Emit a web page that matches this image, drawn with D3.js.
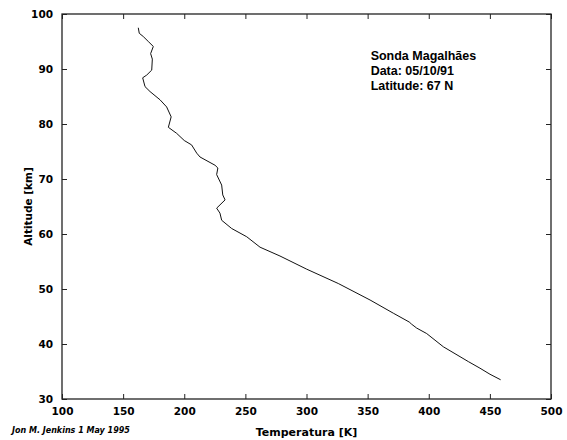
<!DOCTYPE html>
<html>
<head>
<meta charset="utf-8">
<script src="https://cdn.jsdelivr.net/npm/d3@7"></script>
<style>
body { margin: 0; background: #fff; }
</style>
</head>
<body>
<div id="box"></div>
<script>
// temperature profile (K) vs altitude (km), top of the sounding first
var temperature = [162.4, 163.2, 166.5, 170.6, 174.7, 172.5, 173.9, 173.4, 169.3, 166.0, 167.9, 172.0,
    180.2, 185.6, 189.3, 187.0, 193.8, 200.0, 206.0, 210.2, 212.9, 225.2, 227.5, 226.5, 230.6, 231.5,
    233.4, 226.5, 229.2, 230.6, 238.8, 251.1, 262.0, 278.3, 300.2, 326.0, 352.0, 371.0, 384.0,
    386.0, 390.1, 398.3, 411.9, 432.4, 441.9, 450.1, 458.8];
var altitude = [97.5, 96.5, 95.9, 95.0, 94.1, 92.8, 91.8, 89.8, 88.9, 88.4, 86.8, 85.9,
    84.4, 83.1, 81.3, 79.4, 78.3, 77.0, 76.2, 74.7, 74.0, 72.5, 72.0, 70.8, 68.9, 67.1,
    66.2, 64.7, 63.8, 62.5, 61.0, 59.5, 57.6, 56.0, 53.6, 51.0, 48.0, 45.6, 44.0,
    43.6, 42.9, 41.9, 39.5, 36.8, 35.6, 34.5, 33.5];
var xTicks = [100, 150, 200, 250, 300, 350, 400, 450, 500];
var yTicks = [30, 40, 50, 60, 70, 80, 90, 100];
var infoLines = ["Sonda Magalhães", "Data: 05/10/91", "Latitude: 67 N"];

var width = 567, height = 440;
var padLeft = 62, padRight = 551, padTop = 14, padBottom = 399;

var svg = d3.select("#box").append("svg")
    .attr("width", width)
    .attr("height", height);

var x = d3.scaleLinear().domain([100, 500]).range([padLeft, padRight]);
var y = d3.scaleLinear().domain([30, 100]).range([padBottom, padTop]);

// ticks pointing inward on all four sides
svg.append("g")
    .attr("transform", "translate(0," + padBottom + ")")
    .call(d3.axisBottom(x).tickValues(xTicks).tickSize(-5).tickPadding(9))
    .call(function(g){ g.select(".domain").remove(); });
svg.append("g")
    .attr("transform", "translate(0," + padTop + ")")
    .call(d3.axisTop(x).tickValues(xTicks).tickSize(-5).tickFormat(""))
    .call(function(g){ g.select(".domain").remove(); });
svg.append("g")
    .attr("transform", "translate(" + padLeft + ",0)")
    .call(d3.axisLeft(y).tickValues(yTicks).tickSize(-5).tickPadding(9))
    .call(function(g){ g.select(".domain").remove(); });
svg.append("g")
    .attr("transform", "translate(" + padRight + ",0)")
    .call(d3.axisRight(y).tickValues(yTicks).tickSize(-5).tickFormat(""))
    .call(function(g){ g.select(".domain").remove(); });

svg.selectAll(".tick line").attr("stroke", "#222");
svg.selectAll(".tick text")
    .attr("font-family", "DejaVu Sans, sans-serif")
    .attr("font-weight", "bold")
    .attr("font-size", 10.5)
    .attr("fill", "#000");

svg.append("rect")
    .attr("x", padLeft)
    .attr("y", padTop)
    .attr("width", padRight - padLeft)
    .attr("height", padBottom - padTop)
    .attr("fill", "none")
    .attr("stroke", "#222")
    .attr("stroke-width", 1.3);

var line = d3.line()
    .x(function(d, i){ return x(temperature[i]); })
    .y(function(d, i){ return y(altitude[i]); });

svg.append("path")
    .datum(temperature)
    .attr("d", line)
    .attr("fill", "none")
    .attr("stroke", "#111")
    .attr("stroke-width", 1);

svg.selectAll(".info")
    .data(infoLines)
    .enter()
    .append("text")
    .attr("class", "info")
    .attr("x", x(350) + 3)
    .attr("y", function(d, i){ return 60 + i * 15; })
    .attr("font-family", "Liberation Sans, Arial, sans-serif")
    .attr("font-weight", "bold")
    .attr("font-size", 12.5)
    .text(function(d){ return d; });

svg.append("text")
    .attr("x", (padLeft + padRight) / 2)
    .attr("y", 436)
    .attr("text-anchor", "middle")
    .attr("font-family", "DejaVu Sans, sans-serif")
    .attr("font-weight", "bold")
    .attr("font-size", 11)
    .text("Temperatura [K]");

svg.append("text")
    .attr("transform", "translate(32," + (padTop + padBottom) / 2 + ") rotate(-90)")
    .attr("text-anchor", "middle")
    .attr("font-family", "DejaVu Sans, sans-serif")
    .attr("font-weight", "bold")
    .attr("font-size", 10.5)
    .text("Altitude [km]");

svg.append("text")
    .attr("x", 12)
    .attr("y", 433)
    .attr("font-family", "DejaVu Sans, sans-serif")
    .attr("font-weight", "bold")
    .attr("font-size", 8)
    .attr("font-style", "italic")
    .text("Jon M. Jenkins  1 May 1995");
</script>
</body>
</html>
